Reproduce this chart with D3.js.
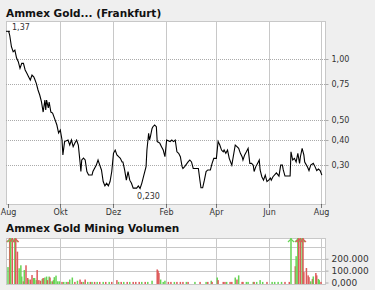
<!DOCTYPE html>
<html><head><meta charset="utf-8">
<script src="https://cdn.jsdelivr.net/npm/d3@7"></script>
<style>
html,body{margin:0;padding:0;background:#efefef;}
svg{display:block;}
text{font-family:"DejaVu Sans",Verdana,sans-serif;}
</style></head><body>
<svg id="c" width="375" height="290"></svg>
<script>
// ---------- data ----------
const title = "Ammex Gold... (Frankfurt)";
const volumeTitle = "Ammex Gold Mining Volumen";
const startDate = "2008-08-01";
const endDate = "2009-08-01";
const tickDates = ["2008-08-01","2008-10-01","2008-12-01","2009-02-01","2009-04-01","2009-06-01","2009-08-01"];
const tickLabels = ["Aug","Okt","Dez","Feb","Apr","Jun","Aug"];
const priceTicks = [1.00, 0.75, 0.50, 0.40, 0.30];
const priceTickLabels = ["1,00","0,75","0,50","0,40","0,30"];
const volumeTicks = [0, 100000, 200000];
const volumeTickLabels = ["0,000","100.000","200.000"];
const volumeGrid = [100000, 200000, 300000];

// days after startDate
const priceDay = [0,1,2,4,6,8,10,12,14,16,18,20,22,24,26,28,30,31,33,35,37,39,41,43,44,45,47,48,50,52,55,57,59,61,63,64,66,70,72,74,76,78,80,82,84,85,86,88,90,92,94,98,99,103,105,107,109,111,113,115,117,119,121,123,125,127,129,131,133,134,136,138,140,142,144,146,150,152,154,156,158,161,162,164,165,166,168,169,171,173,174,177,179,181,183,185,189,191,193,195,197,199,201,203,204,206,210,212,214,216,222,224,225,227,229,231,233,236,238,240,243,245,247,249,251,252,254,256,258,261,265,267,269,271,273,274,276,278,280,282,284,286,287,289,291,293,294,296,298,300,302,304,306,307,309,313,316,318,320,321,323,329,330,332,334,336,338,340,341,343,345,346,349,351,353,356,358,360,362,364,366];
const priceValue = [1.37,1.36,1.31,1.15,1.086,1.107,1.011,0.97,0.90,0.952,0.952,0.883,0.85,0.818,0.788,0.834,0.818,0.80,0.759,0.704,0.665,0.616,0.548,0.628,0.561,0.628,0.574,0.614,0.548,0.542,0.50,0.473,0.432,0.447,0.399,0.337,0.392,0.399,0.377,0.399,0.370,0.386,0.399,0.377,0.311,0.279,0.318,0.325,0.318,0.279,0.268,0.268,0.279,0.30,0.318,0.30,0.284,0.249,0.237,0.244,0.237,0.249,0.279,0.343,0.356,0.337,0.330,0.324,0.311,0.311,0.284,0.253,0.279,0.253,0.244,0.231,0.231,0.237,0.230,0.244,0.263,0.295,0.356,0.431,0.399,0.414,0.455,0.464,0.473,0.464,0.392,0.385,0.370,0.356,0.330,0.399,0.392,0.399,0.392,0.399,0.349,0.343,0.330,0.295,0.289,0.295,0.311,0.318,0.311,0.289,0.289,0.249,0.232,0.232,0.253,0.279,0.284,0.284,0.306,0.324,0.324,0.392,0.377,0.356,0.349,0.356,0.343,0.356,0.324,0.30,0.377,0.370,0.363,0.343,0.330,0.318,0.337,0.349,0.363,0.306,0.306,0.30,0.279,0.295,0.306,0.318,0.284,0.263,0.253,0.268,0.249,0.253,0.259,0.253,0.263,0.275,0.265,0.30,0.30,0.284,0.265,0.265,0.349,0.318,0.324,0.311,0.343,0.306,0.330,0.363,0.337,0.311,0.295,0.282,0.30,0.306,0.295,0.282,0.287,0.282,0.268];

const volDay = [0,2,3,5,8,9,11,13,15,16,18,19,21,23,24,26,28,30,31,33,34,36,38,40,41,43,45,46,48,49,50,52,53,54,56,58,60,63,65,68,70,72,75,78,81,84,86,88,90,93,96,98,101,104,107,111,114,118,121,127,129,132,135,139,142,146,149,153,156,160,163,168,174,175,176,178,181,183,187,190,194,197,201,204,208,210,218,224,231,233,237,238,244,245,251,253,255,259,261,265,267,269,273,274,278,280,286,287,290,294,297,302,308,311,315,319,323,328,330,335,336,338,339,341,343,344,345,348,350,351,353,355,356,359,360,362,363,365];
const volValue = [130000,600000,600000,600000,600000,600000,260000,120000,145000,50000,10000,105000,145000,38000,25000,25000,63000,38000,38000,20000,105000,20000,15000,30000,38000,42000,50000,20000,50000,42000,10000,10000,20000,45000,58000,10000,10000,5000,5000,5000,5000,25000,42000,5000,15000,25000,5000,5000,25000,5000,5000,5000,5000,5000,5000,5000,5000,5000,5000,20000,5000,5000,5000,5000,5000,5000,5000,5000,5000,5000,5000,15000,110000,100000,80000,25000,5000,15000,5000,5000,5000,5000,5000,5000,5000,5000,5000,5000,5000,5000,15000,5000,42000,20000,5000,5000,5000,5000,5000,42000,25000,60000,5000,5000,5000,5000,5000,5000,5000,20000,5000,5000,5000,5000,5000,5000,5000,5000,600000,137000,222000,600000,600000,600000,600000,600000,88000,122000,60000,45000,10000,30000,51000,80000,60000,30000,20000,5000];
const volUp = [1,0,1,0,1,0,0,1,1,1,0,1,0,0,1,0,0,1,1,1,0,0,0,1,0,1,1,0,1,0,1,0,1,1,1,1,1,0,1,1,0,1,1,0,1,0,0,1,0,1,0,1,0,1,0,1,0,1,0,0,1,0,1,0,1,0,0,0,1,0,1,1,0,0,0,1,1,1,0,0,1,0,0,0,1,0,1,0,1,0,1,0,1,0,0,0,1,0,0,1,0,1,0,0,1,1,1,0,1,1,1,0,1,1,1,1,0,0,1,0,1,1,0,0,1,0,0,0,0,0,1,0,1,0,0,1,1,0];

// ---------- layout ----------
const M = {l:6, r:325, t:21, b:204};
const V = {l:6, r:325, t:238, b:284};
const gridC = "#c8c8c8", textC = "#333";
const green = "#66d455", red = "#dd5a5a";

const parse = d3.utcParse("%Y-%m-%d");
const t0 = parse(startDate).getTime();
const toDate = d => new Date(t0 + d*864e5);

const x = d3.scaleUtc().domain([parse(startDate), parse(endDate)]).range([8, 321]);
const y = d3.scaleLog().domain([0.193, 1.54]).range([M.b, M.t]);
const yv = d3.scaleLinear().domain([0, 375000]).range([282.5, V.t]);

const svg = d3.select("#c");
const comma = f => s => d3.format(f)(s).replace(".", ",");

// titles
svg.append("text").attr("x", 6).attr("y", 17).attr("font-size", 10.5).attr("font-weight", "bold").attr("fill", "#111").text(title);
svg.append("text").attr("x", 6).attr("y", 232).attr("font-size", 10.5).attr("font-weight", "bold").attr("fill", "#111").text(volumeTitle);

// ---------- main panel ----------
svg.append("rect").attr("x", M.l+0.5).attr("y", M.t+0.5).attr("width", M.r-M.l).attr("height", M.b-M.t)
  .attr("fill", "#fff").attr("stroke", gridC);

const tds = tickDates.map(parse);
svg.append("g").selectAll("line").data(tds.slice(1)).join("line")
  .attr("x1", d => Math.round(x(d))+0.5).attr("x2", d => Math.round(x(d))+0.5)
  .attr("y1", M.t).attr("y2", M.b).attr("stroke", gridC);
svg.append("g").selectAll("line").data(priceTicks).join("line")
  .attr("x1", M.l).attr("x2", M.r).attr("y1", d => Math.round(y(d))+0.5).attr("y2", d => Math.round(y(d))+0.5)
  .attr("stroke", "#aaa").attr("stroke-dasharray", "1,1");

// x axis
const xa = svg.append("g").attr("transform", `translate(0.5,${M.b+0.5})`)
  .call(d3.axisBottom(x).tickValues(tds).tickFormat((d,i) => tickLabels[i]).tickSize(4).tickPadding(1));
xa.select(".domain").remove();
xa.selectAll(".tick line").attr("stroke", "#000").attr("stroke-dasharray", "1,1");
xa.selectAll(".tick text").attr("font-size", 8).attr("fill", textC).attr("font-family", "DejaVu Sans");
xa.selectAll(".tick").attr("transform", d => `translate(${Math.round(x(d))},0)`);

// y axis right
const ya = svg.append("g").attr("transform", `translate(${M.r+0.5},0)`)
  .call(d3.axisRight(y).tickValues(priceTicks).tickFormat((d,i) => priceTickLabels[i]).tickSize(3).tickPadding(3));
ya.select(".domain").remove();
ya.selectAll(".tick line").attr("stroke", "#aaa");
ya.selectAll(".tick text").attr("font-size", 8).attr("fill", textC).attr("font-family", "DejaVu Sans");
ya.selectAll(".tick").attr("transform", d => `translate(0,${Math.round(y(d))+0.5})`);

// price line
const pts = priceDay.map((d,i) => ({date: toDate(d), v: priceValue[i]}));
svg.append("path").datum(pts)
  .attr("d", d3.line().x(d => x(d.date)).y(d => y(d.v)))
  .attr("fill", "none").attr("stroke", "#000").attr("stroke-width", 1.1);

// high / low markers
const hi = d3.greatest(pts, d => d.v), lo = d3.least(pts, d => d.v);
svg.append("line").attr("x1", x(hi.date)-2).attr("x2", x(hi.date)+2).attr("y1", y(hi.v)).attr("y2", y(hi.v)).attr("stroke", "#000");
svg.append("text").attr("x", x(hi.date)+4).attr("y", y(hi.v)-1).attr("font-size", 8).attr("fill", textC).text(comma(".2f")(hi.v));
svg.append("text").attr("x", x(lo.date)-3).attr("y", y(lo.v)+10).attr("font-size", 8).attr("fill", textC).text(comma(".3f")(lo.v));

// ---------- volume panel ----------
svg.append("rect").attr("x", V.l+0.5).attr("y", V.t+0.5).attr("width", V.r-V.l).attr("height", V.b-V.t)
  .attr("fill", "#fff").attr("stroke", gridC);
svg.append("g").selectAll("line").data(tds.slice(1)).join("line")
  .attr("x1", d => Math.round(x(d))+0.5).attr("x2", d => Math.round(x(d))+0.5)
  .attr("y1", V.t).attr("y2", V.b).attr("stroke", gridC);
svg.append("g").selectAll("line").data(volumeGrid).join("line")
  .attr("x1", V.l).attr("x2", V.r).attr("y1", d => Math.round(yv(d))+0.5).attr("y2", d => Math.round(yv(d))+0.5)
  .attr("stroke", gridC);

const vols = volDay.map((d,i) => ({date: toDate(d), v: volValue[i], up: volUp[i]}));
const vmax = yv.domain()[1];
svg.append("g").selectAll("rect").data(vols).join("rect")
  .attr("x", d => x(d.date) - 0.75).attr("width", 1.5)
  .attr("y", d => yv(Math.min(d.v, vmax)))
  .attr("height", d => V.b - yv(Math.min(d.v, vmax)))
  .attr("fill", d => d.up ? green : red);
svg.append("g").selectAll("path").data(vols.filter(d => d.v > vmax)).join("path")
  .attr("d", d => { const cx = x(d.date); return `M${cx-3},${V.t+4}L${cx},${V.t+1}L${cx+3},${V.t+4}`; })
  .attr("fill", "none").attr("stroke", d => d.up ? green : red).attr("stroke-width", 1.2);

const va = svg.append("g").attr("transform", `translate(${V.r+0.5},0)`)
  .call(d3.axisRight(yv).tickValues(volumeTicks).tickFormat((d,i) => volumeTickLabels[i]).tickSize(3).tickPadding(3));
va.select(".domain").remove();
va.selectAll(".tick line").attr("stroke", "#aaa");
va.selectAll(".tick text").attr("font-size", 9).attr("fill", textC).attr("font-family", "DejaVu Sans");
</script>
</body></html>
